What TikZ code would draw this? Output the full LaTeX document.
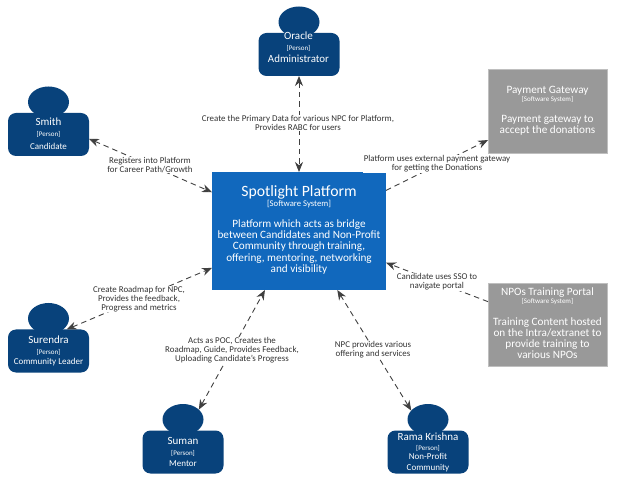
\documentclass[tikz,border=0pt]{standalone}
\usepackage{fontspec}
\setmainfont{Carlito}
\usetikzlibrary{arrows.meta,shapes.geometric}
\definecolor{persona}{HTML}{08427B}
\definecolor{sysblue}{HTML}{1168BD}
\definecolor{sysgray}{HTML}{999999}
\definecolor{linkgray}{HTML}{404040}
\newcommand{\fs}[2]{\fontsize{#1}{#2}\selectfont}
\tikzset{
  x=1pt,y=-1pt,
  bodybox/.style={draw=none,fill=persona,rounded corners=8pt,minimum width=81pt,minimum height=43pt,inner sep=0pt,outer sep=0pt},
  headshape/.style={ellipse,fill=persona,minimum width=41pt,minimum height=31pt,inner sep=0pt,outer sep=0pt},
  sysbox/.style={rectangle,inner sep=0pt,outer sep=0pt},
  graybox/.style={sysbox,fill=sysgray,draw=black!25,line width=0.6pt,minimum width=119pt},
  nametext/.style={text=white,font=\fs{11}{12},inner sep=0pt},
  tagtext/.style={text=white,font=\fs{7}{8},inner sep=0pt},
  roletext/.style={text=white,font=\fs{9}{10.6},inner sep=0pt,align=center},
  desctext/.style={text=white,font=\fs{11.2}{11.2},align=center,inner sep=0pt},
  edgelabel/.style={fill=white,text=black!80,font=\fs{8.9}{8.9},align=center,inner sep=0.6pt},
  link/.style={draw=linkgray,line width=0.9pt,dash pattern=on 5.5pt off 4pt},
  both/.style={link,{Stealth[length=10pt,width=8pt]}-{Stealth[length=10pt,width=8pt]}},
  toend/.style={link,-{Stealth[length=10pt,width=8pt]}},
}
\newcommand{\person}[3]{%
  \node[headshape] (#1head) at (#2,#3-32.5) {};
  \node[bodybox] (#1) at (#2,#3) {};
}
\begin{document}
\begin{tikzpicture}
\useasboundingbox (0,0) rectangle (624,478);
% persons
\person{smith}{48.5}{134.5}
\person{oracle}{299}{54.5}
\person{surendra}{48.5}{351}
\person{suman}{183}{452}
\person{rama}{428}{452}
% systems
\node[sysbox,fill=sysblue,minimum width=174pt,minimum height=118pt] (spot) at (299,231) {};
\node[graybox,minimum height=84pt] (pay) at (547.5,111) {};
\node[graybox,minimum height=83pt] (npo) at (547.5,324.5) {};
% person texts
\node[nametext] (t1) at (48.5,122) {Smith};
\node[tagtext] (t2) at (48.5,134) {[Person]};
\node[roletext] (t3) at (48.5,146.5) {Candidate};
\node[nametext] (t4) at (298.5,36) {Oracle};
\node[tagtext] (t5) at (298.5,48) {[Person]};
\node[roletext,font=\fs{10.9}{12}] (t6) at (298.5,58.5) {Administrator};
\node[nametext] (t7) at (48.5,340) {Surendra};
\node[tagtext] (t8) at (48.5,352) {[Person]};
\node[roletext] (t9) at (48.5,362) {Community Leader};
\node[nametext] (t10) at (183,441) {Suman};
\node[tagtext] (t11) at (183,453) {[Person]};
\node[roletext] (t12) at (183,463.5) {Mentor};
\node[nametext] (t13) at (428,436.5) {Rama Krishna};
\node[tagtext] (t14) at (428,448.5) {[Person]};
\node[roletext] (t15) at (428,462.5) {Non-Profit\\Community};
% system texts
\node[text=white,font=\fs{15.7}{17},inner sep=0pt] (t16) at (299,192) {Spotlight Platform};
\node[text=white,font=\fs{8.7}{9},inner sep=0pt] (t17) at (299,204.5) {[Software System]};
\node[desctext] (t18) at (299,247) {Platform which acts as bridge\\between Candidates and Non-Profit\\Community through training,\\offering, mentoring, networking\\and visibility};
\node[text=white,font=\fs{11.2}{12},inner sep=0pt] (t19) at (547.5,90.5) {Payment Gateway};
\node[text=white,font=\fs{7}{8},inner sep=0pt] (t20) at (547.5,99.5) {[Software System]};
\node[desctext] (t21) at (547.5,125) {Payment gateway to\\accept the donations};
\node[text=white,font=\fs{11.2}{12},inner sep=0pt] (t22) at (547.5,292.5) {NPOs Training Portal};
\node[text=white,font=\fs{7}{8},inner sep=0pt] (t23) at (547.5,301.5) {[Software System]};
\node[desctext] (t24) at (547.5,338) {Training Content hosted\\on the Intra/extranet to\\provide training to\\various NPOs};
% connectors
\draw[both] (smith.-6.3) -- (spot.156.4);
\draw[both] (oracle.south) -- (spot.north);
\draw[toend] (spot.25.8) -- (pay.206);
\draw[toend] (npo.159.3) -- (spot.-20.2);
\draw[both] (surendra.50) -- (spot.203);
\draw[both] (sumanhead.32) -- (spot.240.8);
\draw[both] (ramahead.152) -- (spot.-57.9);
% edge labels
\node[edgelabel] (l1) at (150,165) {Registers into Platform\\for Career Path/Growth};
\node[edgelabel] (l2) at (298,123) {Create the Primary Data for various NPC for Platform,\\Provides RABC for users};
\node[edgelabel] (l3) at (437,164) {Platform uses external payment gateway\\for getting the Donations};
\node[edgelabel] (l4) at (437,282) {Candidate uses SSO to\\navigate portal};
\node[edgelabel] (l5) at (139,299) {Create Roadmap for NPC,\\Provides the feedback,\\Progress and metrics};
\node[edgelabel] (l6) at (232,350) {Acts as POC, Creates the\\Roadmap, Guide, Provides Feedback,\\Uploading Candidate's Progress};
\node[edgelabel] (l7) at (373,350) {NPC provides various\\offering and services};
\end{tikzpicture}
\end{document}
